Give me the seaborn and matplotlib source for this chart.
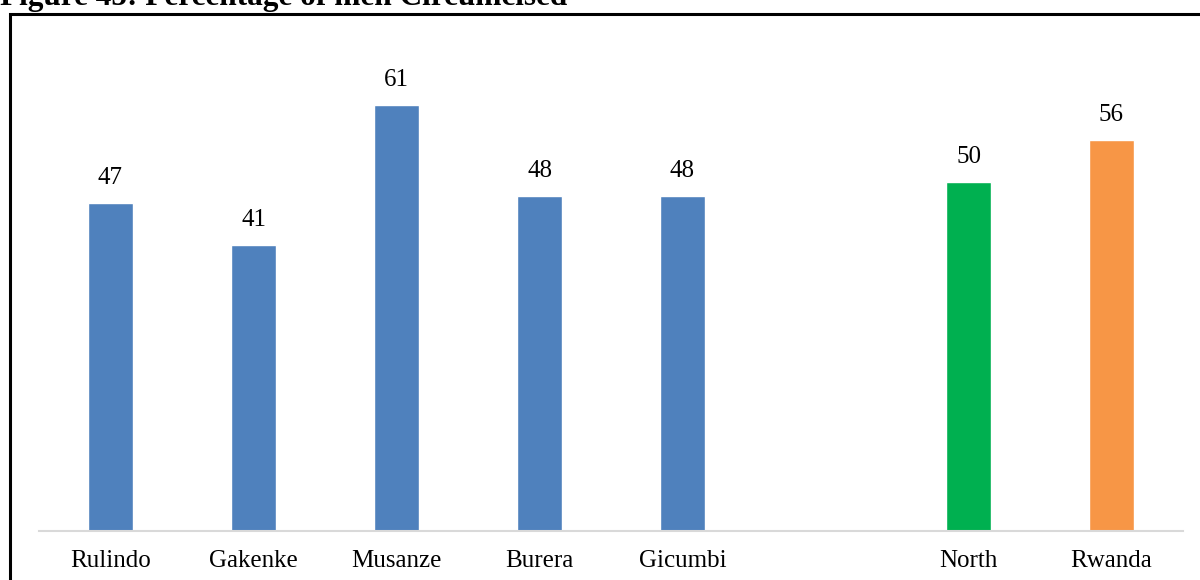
import matplotlib
matplotlib.use("Agg")
import matplotlib.pyplot as plt
import seaborn as sns
import pandas as pd
from matplotlib.patches import Rectangle

categories = ["Rulindo", "Gakenke", "Musanze", "Burera", "Gicumbi", "", "North", "Rwanda"]
values = [47, 41, 61, 48, 48, None, 50, 56]
colors = ["#4F81BD", "#4F81BD", "#4F81BD", "#4F81BD", "#4F81BD", "#FFFFFF", "#00B050", "#F79646"]
title = "Figure 45: Percentage of men Circumcised"

sns.set_theme(style="white")
plt.rcParams["font.family"] = ["Liberation Serif", "DejaVu Serif"]

df = pd.DataFrame({"cat": [c if c else " " for c in categories],
                   "val": [v if v is not None else 0 for v in values]})

fig = plt.figure(figsize=(12, 5.8), dpi=100)
ax = fig.add_axes([39/1200, 1 - 531/580, (1183-39)/1200, (531-42)/580])

sns.barplot(data=df, x="cat", y="val", hue="cat", palette=colors, legend=False,
            width=0.315, ax=ax, saturation=1)

for i, v in enumerate(values):
    if v is None:
        continue
    ax.annotate(f"{v}", (i, v), xytext=(0, 10), textcoords="offset points",
                ha="center", va="bottom", fontsize=18, color="#000000")

ax.set_xlim(-0.5, len(categories) - 0.5)
ax.set_ylim(0, 70)
ax.set_xlabel("")
ax.set_ylabel("")
ax.set_yticks([])
for s in ["top", "left", "right"]:
    ax.spines[s].set_visible(False)
ax.spines["bottom"].set_color("#D9D9D9")
ax.spines["bottom"].set_linewidth(1.5)
ax.tick_params(axis="x", length=0, pad=14, labelsize=18, labelcolor="#000000")

fig.text(0.0, 1 - 5/580, title, ha="left", va="baseline", fontsize=22.5,
         fontweight="bold", color="#000000")

fig.patches.append(Rectangle((10/1200, -0.1), 1.2, 1.1 - 14/580, transform=fig.transFigure,
                             fill=False, edgecolor="#000000", linewidth=2.2, figure=fig))

fig.savefig("out.png", dpi=100)
